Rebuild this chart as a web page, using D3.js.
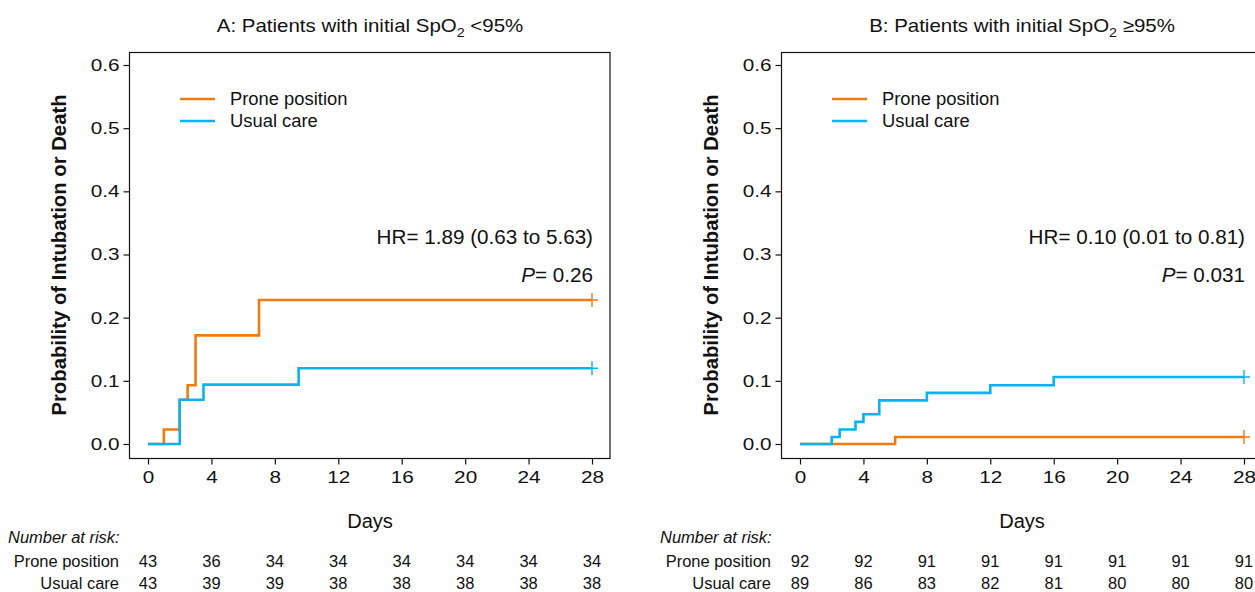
<!DOCTYPE html>
<html>
<head>
<meta charset="utf-8">
<script src="https://cdn.jsdelivr.net/npm/d3@7"></script>
<style>
  body { margin: 0; background: #fff; }
  svg { font-family: "Liberation Sans", Arial, sans-serif; fill: #111; }
</style>
</head>
<body>
<svg id="chart" width="1255" height="592"></svg>
<script>
// step data: [day, cumulative probability]
let proneA = [[0, 0], [1, 0.023], [2, 0.070], [2.5, 0.093], [3, 0.172], [7, 0.228], [28, 0.228]];
let usualA = [[0, 0], [2, 0.070], [3.5, 0.094], [9.5, 0.120], [28, 0.120]];
let proneB = [[0, 0], [6, 0.011], [28, 0.011]];
let usualB = [[0, 0], [2, 0.011], [2.5, 0.023], [3.5, 0.035], [4, 0.047], [5, 0.069], [8, 0.081], [12, 0.093], [16, 0.106], [28, 0.106]];

let dayTicks = [0, 4, 8, 12, 16, 20, 24, 28];
let probTicks = [0, 0.1, 0.2, 0.3, 0.4, 0.5, 0.6];

let riskProneA = [43, 36, 34, 34, 34, 34, 34, 34];
let riskUsualA = [43, 39, 39, 38, 38, 38, 38, 38];
let riskProneB = [92, 92, 91, 91, 91, 91, 91, 91];
let riskUsualB = [89, 86, 83, 82, 81, 80, 80, 80];

let seriesNames = ['Prone position', 'Usual care'];
let colors = ['#ee7b10', '#0cb2ec'];

let svg = d3.select('#chart');

// text that is a little wider than the font, like the original
function label(g, x, y, s, size, sx, anchor) {
    return g.append('text')
        .attr('transform', 'translate(' + x + ',' + y + ') scale(' + sx + ',1)')
        .attr('text-anchor', anchor || 'start')
        .attr('font-size', size)
        .text(s);
}

function drawPanel(offsetX, cfg) {
    let g = svg.append('g').attr('transform', 'translate(' + offsetX + ',0)');
    let x = d3.scaleLinear().domain([0, 28]).range([148, 592]);
    let y = d3.scaleLinear().domain([0, 0.6]).range([444, 65]);
    let box = { left: 129.5, right: 610, top: 52.5, bottom: 458.5 };

    // title with subscript
    let title = label(g, 370, 32, '', 18.6, 1.1, 'middle');
    title.append('tspan').text(cfg.letter + ': Patients with initial SpO');
    title.append('tspan').attr('font-size', 13).attr('dy', 5).text('2');
    title.append('tspan').attr('dy', -5).text(' ' + cfg.cut);

    // frame
    g.append('rect')
        .attr('x', box.left).attr('y', box.top)
        .attr('width', box.right - box.left).attr('height', box.bottom - box.top)
        .attr('fill', 'none').attr('stroke', '#111').attr('stroke-width', 1.2);

    let tickSx = 1.22;
    let yAxis = d3.axisLeft(y).tickValues(probTicks).tickFormat(d3.format('.1f'))
        .tickSize(6).tickPadding(4);
    g.append('g').attr('transform', 'translate(' + box.left + ',0)').call(yAxis)
        .call(a => a.select('.domain').remove())
        .call(a => a.selectAll('text')
            .attr('font-size', 17).attr('font-family', null).attr('fill', '#111')
            .attr('x', -10 / tickSx).attr('transform', 'scale(' + tickSx + ',1)'))
        .call(a => a.selectAll('line').attr('stroke', '#111').attr('stroke-width', 1.2));

    let xAxis = d3.axisBottom(x).tickValues(dayTicks).tickSize(6).tickPadding(6);
    g.append('g').attr('transform', 'translate(0,' + box.bottom + ')').call(xAxis)
        .call(a => a.select('.domain').remove())
        .call(a => a.selectAll('text')
            .attr('font-size', 17).attr('font-family', null).attr('fill', '#111')
            .attr('transform', 'scale(' + tickSx + ',1)'))
        .call(a => a.selectAll('line').attr('stroke', '#111').attr('stroke-width', 1.2));

    g.append('text')
        .attr('transform', 'translate(66,' + 255 + ') rotate(-90)')
        .attr('text-anchor', 'middle')
        .attr('font-size', 20.3).attr('font-weight', 'bold')
        .text('Probability of Intubation or Death');

    label(g, 370, 528, 'Days', 19.5, 1.03, 'middle');

    // curves
    let line = d3.line()
        .x(d => x(d[0]))
        .y(d => y(d[1]))
        .curve(d3.curveStepAfter);
    [cfg.prone, cfg.usual].forEach(function (data, i) {
        g.append('path')
            .attr('d', line(data))
            .attr('fill', 'none')
            .attr('stroke', colors[i])
            .attr('stroke-width', 2.6);
        let last = data[data.length - 1];
        let cx = x(last[0]), cy = y(last[1]);
        g.append('path')
            .attr('d', 'M' + (cx - 6) + ',' + cy + 'H' + (cx + 6) + 'M' + cx + ',' + (cy - 7) + 'V' + (cy + 7))
            .attr('stroke', colors[i]).attr('stroke-width', 1.4).attr('fill', 'none');
    });

    // legend
    seriesNames.forEach(function (name, i) {
        let ly = 99 + i * 22;
        g.append('line')
            .attr('x1', 180).attr('x2', 215).attr('y1', ly).attr('y2', ly)
            .attr('stroke', colors[i]).attr('stroke-width', 2.6);
        label(g, 230, ly + 6, name, 17.5, 1.05);
    });

    // HR and P
    label(g, 593, 244, cfg.hr, 19.5, 1.06, 'end');
    let p = label(g, 593, 282, '', 19.5, 1.06, 'end');
    p.append('tspan').attr('font-style', 'italic').text('P');
    p.append('tspan').text('= ' + cfg.p);

    // number at risk
    label(g, 8, 543, 'Number at risk:', 16, 1.03).attr('font-style', 'italic');
    [cfg.riskProne, cfg.riskUsual].forEach(function (row, i) {
        let ry = 567 + i * 22;
        label(g, 119, ry, seriesNames[i], 16, 1.03, 'end');
        row.forEach(function (d, j) {
            label(g, x(dayTicks[j]), ry, d, 16, 1.03, 'middle');
        });
    });
}

drawPanel(0, {
    letter: 'A', cut: '<95%', prone: proneA, usual: usualA,
    hr: 'HR= 1.89 (0.63 to 5.63)', p: '0.26',
    riskProne: riskProneA, riskUsual: riskUsualA
});
drawPanel(652, {
    letter: 'B', cut: '\u226595%', prone: proneB, usual: usualB,
    hr: 'HR= 0.10 (0.01 to 0.81)', p: '0.031',
    riskProne: riskProneB, riskUsual: riskUsualB
});
</script>
</body>
</html>
